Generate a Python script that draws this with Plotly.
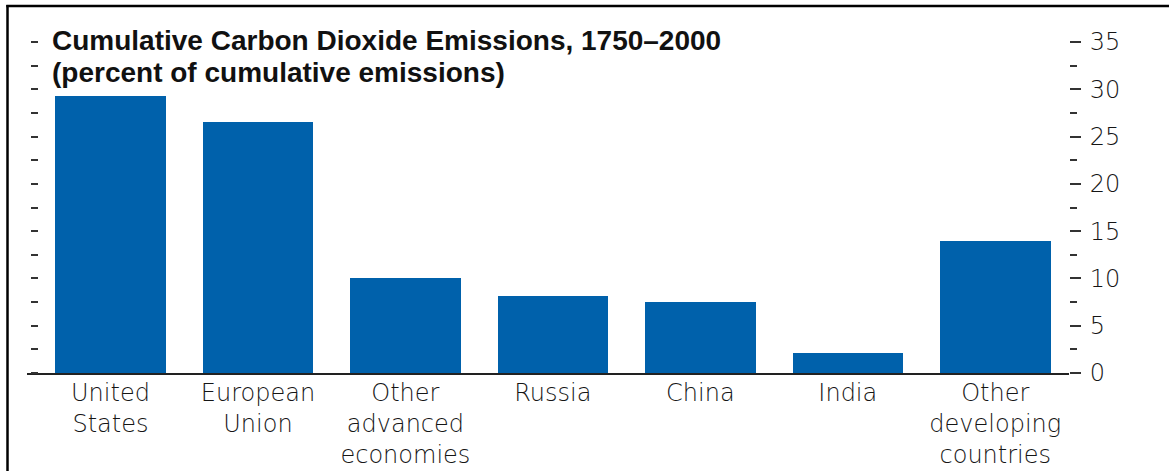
import plotly.graph_objects as go

# Share of cumulative CO2 emissions, 1750-2000 (percent)
regions = ["United<br>States", "European<br>Union", "Other<br>advanced<br>economies",
           "Russia", "China", "India", "Other<br>developing<br>countries"]
shares = [29.3, 26.5, 10.0, 8.1, 7.5, 2.1, 14.0]

y_ticks = [0, 5, 10, 15, 20, 25, 30, 35]
y_tick_labels = ["0", "5", "10", "15", "20", "25", "30", "35"]

BAR_BLUE = "#0061ab"
LABEL_FONT = dict(family="DejaVu Sans", size=24, color="#151515", weight=200)
TITLE_FONT = dict(family="Liberation Sans", size=28, color="#111", weight="bold")

W, H = 1169, 471
ML, MR, MT, MB = 27, 100, 42, 98
plot_w = W - ML - MR
plot_h = H - MT - MB

px = lambda p: (p - ML) / plot_w
py = lambda p: (H - MB - p) / plot_h

fig = go.Figure()
fig.add_trace(go.Bar(
    x=list(range(len(regions))), y=shares,
    marker=dict(color=BAR_BLUE, line=dict(width=0)),
    width=0.75, yaxis="y",
))
# invisible trace to activate the left tick-only axis
fig.add_trace(go.Scatter(x=[0], y=[0], yaxis="y2", mode="markers",
                         marker=dict(opacity=0), hoverinfo="skip", showlegend=False))

fig.update_layout(
    width=W, height=H,
    margin=dict(l=ML, r=MR, t=MT, b=MB, autoexpand=False),
    paper_bgcolor="white", plot_bgcolor="white",
    showlegend=False,
    bargap=0,
    xaxis=dict(
        range=[-0.566, 6.5], automargin=False,
        tickmode="array", tickvals=list(range(len(regions))), ticktext=regions,
        showgrid=False, zeroline=False,
        showline=True, linecolor="#222", linewidth=1.5,
        ticks="", tickfont=LABEL_FONT, ticklabelstandoff=-3,
    ),
    yaxis=dict(
        side="right", range=[0, 35], automargin=False,
        tickmode="array", tickvals=y_ticks, ticktext=y_tick_labels,
        ticks="outside", ticklen=11, tickwidth=1.5, tickcolor="#333",
        minor=dict(dtick=2.5, tick0=0, ticks="outside", ticklen=7,
                   tickwidth=1.5, tickcolor="#333", showgrid=False),
        showgrid=False, zeroline=False, showline=False,
        tickfont=LABEL_FONT, ticklabelstandoff=4,
    ),
    # left-hand tick marks without labels
    yaxis2=dict(
        overlaying="y", side="left", anchor="free", position=px(38),
        range=[0, 35], automargin=False,
        tickmode="array", tickvals=y_ticks, ticktext=[""] * len(y_ticks),
        ticks="outside", ticklen=11, tickwidth=1.5, tickcolor="#333",
        minor=dict(dtick=2.5, tick0=0, ticks="outside", ticklen=7,
                   tickwidth=1.5, tickcolor="#333", showgrid=False),
        showgrid=False, zeroline=False, showline=False, showticklabels=False,
    ),
)

# title lines
fig.add_annotation(
    text="Cumulative Carbon Dioxide Emissions, 1750\u20132000",
    xref="paper", yref="paper", x=px(50), y=py(41),
    xanchor="left", yanchor="middle", showarrow=False, font=TITLE_FONT,
)
fig.add_annotation(
    text="(percent of cumulative emissions)",
    xref="paper", yref="paper", x=px(50), y=py(72),
    xanchor="left", yanchor="middle", showarrow=False, font=TITLE_FONT,
)

# frame along the left and top edges
fig.add_shape(type="line", xref="paper", yref="paper",
              x0=px(7.5), x1=px(7.5), y0=py(5), y1=py(H + 5),
              line=dict(color="black", width=2.5))
fig.add_shape(type="line", xref="paper", yref="paper",
              x0=px(6.3), x1=px(W + 5), y0=py(6), y1=py(6),
              line=dict(color="black", width=2.5))

fig.write_html("out.html")
